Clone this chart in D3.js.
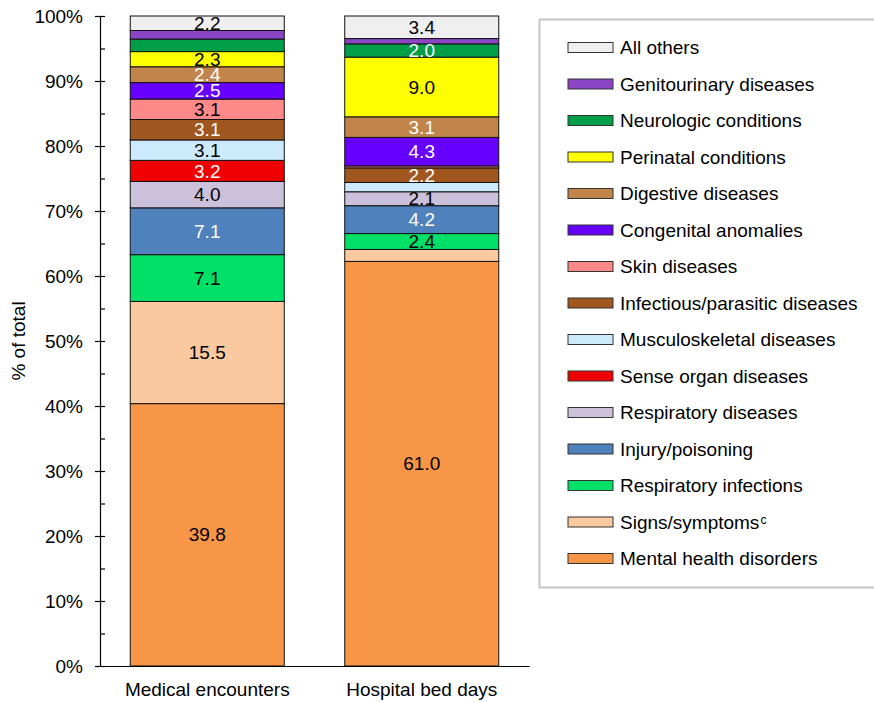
<!DOCTYPE html>
<html>
<head>
<meta charset="utf-8">
<script src="https://cdn.jsdelivr.net/npm/d3@7"></script>
<style>
  html, body { margin: 0; padding: 0; background: #fff; }
  svg { display: block; font-family: "Liberation Sans", Arial, sans-serif; }
</style>
</head>
<body>
<svg id="chart" width="874" height="702"></svg>
<script>
// Categories along the x axis
const categories = ["Medical encounters", "Hospital bed days"];

// Series, listed from the bottom of each stack to the top
const seriesNames = [
  "Mental health disorders",
  "Signs/symptoms",
  "Respiratory infections",
  "Injury/poisoning",
  "Respiratory diseases",
  "Sense organ diseases",
  "Musculoskeletal diseases",
  "Infectious/parasitic diseases",
  "Skin diseases",
  "Congenital anomalies",
  "Digestive diseases",
  "Perinatal conditions",
  "Neurologic conditions",
  "Genitourinary diseases",
  "All others"
];

// Percent of total, one value per category
const mentalHealth   = [39.8, 61.0];
const signsSymptoms  = [15.5, 1.8];
const respInfections = [7.1, 2.4];
const injuryPoison   = [7.1, 4.2];
const respDiseases   = [4.0, 2.1];
const senseOrgan     = [3.2, 0.0];
const musculoskel    = [3.1, 1.4];
const infectious     = [3.1, 2.2];
const skinDiseases   = [3.1, 0.3];
const congenital     = [2.5, 4.3];
const digestive      = [2.4, 3.1];
const perinatal      = [2.3, 9.0];
const neurologic     = [1.9, 2.0];
const genitourinary  = [1.3, 0.8];
const allOthers      = [2.2, 3.4];

const seriesValues = [
  mentalHealth, signsSymptoms, respInfections, injuryPoison, respDiseases,
  senseOrgan, musculoskel, infectious, skinDiseases, congenital,
  digestive, perinatal, neurologic, genitourinary, allOthers
];

const seriesColors = [
  "#f79646", "#fac99f", "#00df66", "#4f81bd", "#ccc1da",
  "#f00000", "#cdeafd", "#a0561f", "#ff8989", "#6600ff",
  "#c1844b", "#ffff00", "#009e47", "#8b45c4", "#efefef"
];

// Series whose value labels are printed in white
const whiteLabelSeries = [
  "Injury/poisoning", "Sense organ diseases", "Infectious/parasitic diseases",
  "Congenital anomalies", "Digestive diseases", "Neurologic conditions"
];

const yTicks = d3.range(0, 1.0001, 0.1);
const yMinorTicks = d3.range(0, 1.0001, 0.05);

// Build per-category rows for the stack layout
const rows = categories.map((c, i) => {
  const r = { category: c };
  seriesNames.forEach((s, j) => { r[s] = seriesValues[j][i]; });
  return r;
});

const svg = d3.select("#chart");
const plot = { left: 100, right: 529, top: 16, bottom: 666 };

const x = d3.scaleBand()
  .domain(categories)
  .range([plot.left, plot.right])
  .paddingInner(0.282)
  .paddingOuter(0.141);

const y = d3.scaleLinear().domain([0, 1]).range([plot.bottom, plot.top]);

const color = d3.scaleOrdinal().domain(seriesNames).range(seriesColors);

const stacked = d3.stack()
  .keys(seriesNames)
  .offset(d3.stackOffsetExpand)(rows);

// Stacked bar segments
const layers = svg.append("g").selectAll("g")
  .data(stacked)
  .join("g")
  .attr("fill", d => color(d.key));

layers.selectAll("rect")
  .data(d => d.map(p => ({ key: d.key, p })).filter(o => o.p.data[o.key] > 0))
  .join("rect")
  .attr("x", o => x(o.p.data.category))
  .attr("width", x.bandwidth())
  .attr("y", o => y(o.p[1]))
  .attr("height", o => y(o.p[0]) - y(o.p[1]))
  .attr("stroke", "#111")
  .attr("stroke-width", 1);

// Value labels centred in segments of at least 2 percent
const labelData = [];
stacked.forEach(layer => {
  layer.forEach(p => {
    const v = p.data[layer.key];
    if (v >= 2) labelData.push({ key: layer.key, p, v });
  });
});

svg.append("g").selectAll("text")
  .data(labelData)
  .join("text")
  .attr("x", o => x(o.p.data.category) + x.bandwidth() / 2)
  .attr("y", o => (y(o.p[0]) + y(o.p[1])) / 2)
  .attr("dy", "0.35em")
  .attr("text-anchor", "middle")
  .attr("font-size", 19)
  .attr("fill", o => whiteLabelSeries.includes(o.key) ? "#ffffff" : "#000000")
  .text(o => d3.format(".1f")(o.v));

// Y axis: major ticks cross the axis line, minor ticks sit inside
const yAxis = svg.append("g")
  .attr("transform", `translate(${plot.left},0)`)
  .call(d3.axisLeft(y).tickValues(yTicks).tickFormat(d3.format(".0%"))
    .tickSizeInner(5).tickSizeOuter(0).tickPadding(12));
yAxis.select(".domain").attr("stroke", "#000").attr("stroke-width", 1.2);
yAxis.selectAll(".tick line").attr("stroke", "#000").attr("stroke-width", 1.2);
yAxis.selectAll(".tick text").attr("font-size", 19).attr("fill", "#000")
  .attr("font-family", "Liberation Sans, Arial, sans-serif");

const yMinor = svg.append("g")
  .attr("transform", `translate(${plot.left},0)`)
  .call(d3.axisRight(y).tickValues(yMinorTicks).tickFormat("").tickSize(5));
yMinor.select(".domain").remove();
yMinor.selectAll(".tick line").attr("stroke", "#000").attr("stroke-width", 1.2);

// X axis with category names
const xAxis = svg.append("g")
  .attr("transform", `translate(0,${plot.bottom})`)
  .call(d3.axisBottom(x).tickSize(0).tickSizeOuter(0).tickPadding(17));
xAxis.select(".domain").attr("stroke", "#000").attr("stroke-width", 1.2);
xAxis.selectAll(".tick text").attr("font-size", 19).attr("fill", "#000")
  .attr("font-family", "Liberation Sans, Arial, sans-serif");

// Y axis title
svg.append("text")
  .attr("transform", `translate(18,${(plot.top + plot.bottom) / 2}) rotate(-90)`)
  .attr("text-anchor", "middle")
  .attr("dy", "0.35em")
  .attr("font-size", 19)
  .attr("fill", "#000")
  .text("% of total");

// Legend, top series first
const legend = svg.append("g");
legend.append("rect")
  .attr("x", 539.5).attr("y", 19.5)
  .attr("width", 340).attr("height", 568)
  .attr("fill", "none")
  .attr("stroke", "#c6c6c6")
  .attr("stroke-width", 2);

const legendOrder = seriesNames.slice().reverse();
const items = legend.selectAll("g.item")
  .data(legendOrder)
  .join("g")
  .attr("class", "item")
  .attr("transform", (d, i) => `translate(568,${47.5 + i * 36.5})`);

items.append("rect")
  .attr("x", 0).attr("y", -5)
  .attr("width", 45).attr("height", 10)
  .attr("fill", d => color(d))
  .attr("stroke", "#333")
  .attr("stroke-width", 1);

const legendText = items.append("text")
  .attr("x", 52)
  .attr("dy", "0.35em")
  .attr("font-size", 19)
  .attr("fill", "#000");
legendText.append("tspan").text(d => d);
legendText.filter(d => d === "Signs/symptoms")
  .append("tspan")
  .attr("font-size", 12)
  .attr("dy", -5)
  .attr("dx", 1)
  .text("c");
</script>
</body>
</html>
